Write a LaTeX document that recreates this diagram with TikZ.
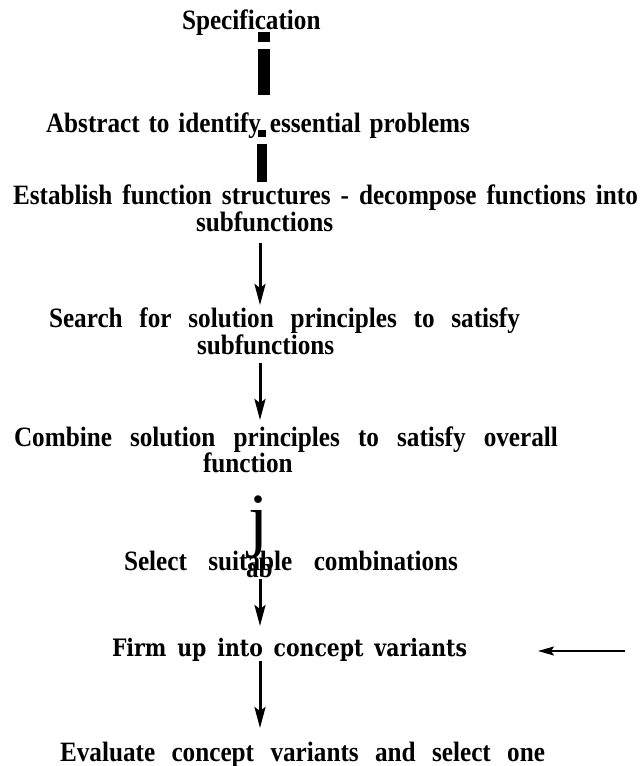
\documentclass[tikz,border=0pt]{standalone}
\usepackage{fontspec}
\usetikzlibrary{arrows.meta}
% Faces for the step captions
\newfontfamily\stepfont[FakeStretch=0.9]{Liberation Serif}
\newfontfamily\firmfont[FakeStretch=0.85]{DejaVu Serif}
\newfontfamily\glyphfont{Liberation Serif}
\tikzset{
  steptext/.style={anchor=base west, inner sep=0pt, outer sep=0pt,
    font=\stepfont\bfseries\fontsize{28}{28}\selectfont},
  firmtext/.style={anchor=base west, inner sep=0pt, outer sep=0pt,
    font=\firmfont\bfseries\fontsize{24}{24}\selectfont},
  jtext/.style={anchor=base, inner sep=0pt, outer sep=0pt,
    font=\glyphfont\fontsize{72}{72}\selectfont},
  barline/.style={line width=12pt},
  thinbar/.style={line width=10pt},
  flow/.style={line width=3pt,
    -{Stealth[length=21pt,width=11pt,inset=4pt]}},
  sideflow/.style={line width=2pt,
    -{Stealth[length=16pt,width=9pt,inset=3pt]}},
}
\begin{document}
\begin{tikzpicture}[x=1pt,y=-1pt]
  \useasboundingbox[fill=white] (0,0) rectangle (641,766);

  % step captions
  \node[steptext] (spec)   at (182,29)  {Specification};
  \node[steptext] (abs)    at (46,132)  {\makebox[424pt][s]{Abstract to identify essential problems}};
  \node[steptext] (est)    at (13,204)  {\makebox[625pt][s]{Establish function structures - decompose functions into}};
  \node[steptext] (sub1)   at (196,231) {subfunctions};
  \node[steptext] (search) at (49,327)  {\makebox[471pt][s]{Search for solution principles to satisfy}};
  \node[steptext] (sub2)   at (197,354) {subfunctions};
  \node[steptext] (comb)   at (14,446)  {\makebox[544pt][s]{Combine solution principles to satisfy overall}};
  \node[steptext] (func)   at (203,472) {function};
  \node[steptext] (select) at (124,570) {\makebox[334pt][s]{Select suitable combinations}};
  \node[steptext] (ab)     at (246,577) {ab};
  \node[jtext]    (jglyph) at (258,543) {j};
  \node[firmtext] (firm)   at (112,656) {\makebox[355pt][s]{Firm up into concept variants}};
  \node[steptext] (eval)   at (60,761)  {\makebox[485pt][s]{Evaluate concept variants and select one}};

  % heavy bars below the first two captions
  \coordinate (b1a) at (264,32);  \coordinate (b1b) at (264,42);
  \coordinate (b1c) at (264,49);  \coordinate (b1d) at (264,95);
  \coordinate (b2a) at (262,130); \coordinate (b2b) at (262,137);
  \coordinate (b2c) at (262,144); \coordinate (b2d) at (262,182);
  \draw[barline] (b1a) -- (b1b);
  \draw[barline] (b1c) -- (b1d);
  \draw[line width=8pt] (b2a) -- (b2b);
  \draw[thinbar] (b2c) -- (b2d);

  % downward arrows
  \coordinate (a1s) at (260,243); \coordinate (a1e) at (260,305);
  \coordinate (a2s) at (260,363); \coordinate (a2e) at (260,420);
  \coordinate (a3s) at (260,579); \coordinate (a3e) at (260,626);
  \coordinate (a4s) at (260,661); \coordinate (a4e) at (260,728);
  \draw[flow] (a1s) -- (a1e);
  \draw[flow] (a2s) -- (a2e);
  \draw[flow] (a3s) -- (a3e);
  \draw[flow] (a4s) -- (a4e);

  % side input into the concept-variant step
  \coordinate (sideS) at (625,651);
  \coordinate (sideE) at (538,651);
  \draw[sideflow] (sideS) -- (sideE);
\end{tikzpicture}
\end{document}
